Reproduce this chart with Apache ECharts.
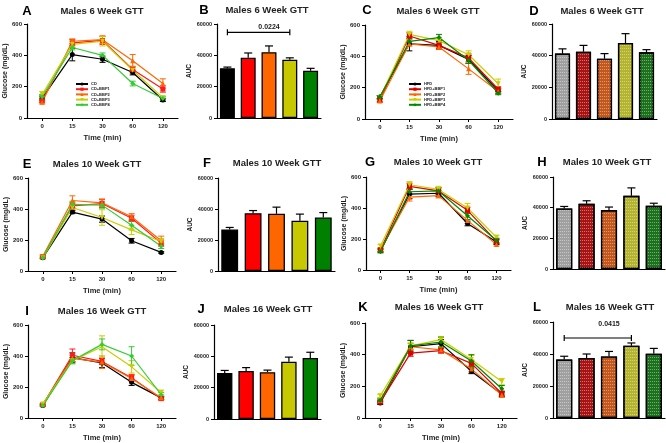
<!DOCTYPE html>
<html><head><meta charset="utf-8">
<script src="https://cdn.jsdelivr.net/npm/echarts@6/dist/echarts.min.js"></script>
<style>html,body{margin:0;padding:0;background:#fff}#c{width:666px;height:443px}</style>
</head><body><div id="c"></div>
<script>
// ---------- DATA ----------
const timePoints = ['0', '15', '30', '60', '120'];
const cdGroups = ['CD', 'CD+BBP1', 'CD+BBP2', 'CD+BBP3', 'CD+BBP4'];
const hfdGroups = ['HFD', 'HFD+BBP1', 'HFD+BBP2', 'HFD+BBP3', 'HFD+BBP4'];
const glucoseTicks = [0, 200, 400, 600];
const aucTicks = [0, 20000, 40000, 60000];

// GTT curves: one row per group, values at 0,15,30,60,120 min
const gttA_mean = [[125,405,375,290,115],[110,480,495,310,185],[100,490,500,365,220],[150,470,490,305,130],[135,450,400,220,125]];
const gttA_err  = [[15,40,20,15,10],[10,20,25,20,20],[10,15,25,40,30],[20,20,30,20,10],[15,15,15,15,10]];
const gttC_mean = [[140,480,470,380,180],[120,530,470,390,190],[115,480,460,320,175],[135,540,500,410,225],[140,495,520,375,165]];
const gttC_err  = [[10,45,25,25,15],[10,20,20,25,15],[10,15,15,35,15],[10,20,20,25,30],[10,20,20,20,10]];
const gttE_mean = [[85,380,335,195,120],[90,420,435,340,180],[95,455,440,350,195],[85,410,345,265,190],[85,430,425,295,160]];
const gttE_err  = [[5,10,20,15,5],[10,20,25,20,20],[10,30,25,20,30],[5,25,50,30,20],[5,20,20,30,15]];
const gttG_mean = [[125,490,495,300,180],[130,540,510,385,185],[130,470,480,320,165],[155,550,520,400,210],[120,505,510,350,190]];
const gttG_err  = [[10,30,20,15,15],[10,20,20,20,15],[10,25,15,20,10],[10,20,20,30,15],[10,20,20,25,15]];
const gttI_mean = [[80,390,355,230,130],[85,405,365,260,125],[90,385,360,255,130],[90,370,460,330,165],[80,370,475,400,150]];
const gttI_err  = [[5,30,30,20,10],[5,40,20,20,10],[5,20,40,20,10],[5,20,70,40,15],[5,20,35,60,15]];
const gttK_mean = [[95,450,470,295,150],[100,410,425,345,155],[110,450,430,310,145],[140,455,495,370,230],[110,455,480,360,185]];
const gttK_err  = [[10,40,25,15,15],[10,20,15,20,15],[10,20,15,20,15],[10,20,20,25,20],[10,35,30,40,20]];

// AUC bars: one value per group
const aucB_mean = [31800, 38500, 42000, 37200, 30200];
const aucB_err  = [700, 3000, 4000, 1200, 1500];
const aucD_mean = [41300, 42500, 38100, 48000, 42100];
const aucD_err  = [3000, 4000, 3200, 5900, 1700];
const aucF_mean = [26800, 37300, 36900, 32400, 34500];
const aucF_err  = [1300, 1700, 4300, 4300, 3200];
const aucH_mean = [39500, 42500, 38400, 47700, 41200];
const aucH_err  = [1300, 2000, 2000, 5200, 1700];
const aucJ_mean = [29300, 30700, 29900, 36500, 39000];
const aucJ_err  = [1700, 2100, 1300, 3000, 3600];
const aucL_mean = [36500, 37500, 38500, 45200, 40200];
const aucL_err  = [2100, 2500, 3100, 1700, 3300];

// significance brackets: [fromBar, toBar, lineValue, labelValue]
const sigB = [0, 3, 54700, 57900];
const sigB_text = '0.0224';
const sigL = [0, 3, 50000, 58700];
const sigL_text = '0.0415';

const panelTitles = ['Males 6 Week GTT', 'Males 10 Week GTT', 'Males 16 Week GTT'];

// ---------- STYLE / LAYOUT ----------
const cdColors  = ['#000000', '#ff1a1a', '#ff6600', '#cccc00', '#33cc33'];
const hfdColors = ['#000000', '#dd0000', '#ff6600', '#cccc00', '#008800'];
const barColors = ['#000000', '#ff0000', '#ff6600', '#c8c800', '#008000'];
const patColors = ['#a0a0a0', '#a81414', '#c4581c', '#b4b42e', '#1c721c'];
const symbols = ['circle', 'rect', 'triangle', 'triangle', 'diamond'];
const symRot = [0, 0, 0, 180, 0];
const FONT = 'Liberation Sans, Arial, sans-serif';

const grids = [], xAxes = [], yAxes = [], series = [], graphics = [];

function lineErrRender(params, api) {
  const x = api.value(0), lo = api.value(1), hi = api.value(2);
  const p1 = api.coord([x, lo]), p2 = api.coord([x, hi]);
  const c = api.visual('color'), w = 3;
  const st = { stroke: c, lineWidth: 1 };
  return { type: 'group', children: [
    { type: 'line', shape: { x1: p1[0], y1: p1[1], x2: p2[0], y2: p2[1] }, style: st },
    { type: 'line', shape: { x1: p1[0] - w, y1: p1[1], x2: p1[0] + w, y2: p1[1] }, style: st },
    { type: 'line', shape: { x1: p2[0] - w, y1: p2[1], x2: p2[0] + w, y2: p2[1] }, style: st }
  ]};
}
function barErrRender(params, api) {
  const x = api.value(0), lo = api.value(1), hi = api.value(2);
  const p1 = api.coord([x, lo]), p2 = api.coord([x, hi]);
  const w = 4;
  const st = { stroke: '#000', lineWidth: 1.2 };
  return { type: 'group', children: [
    { type: 'line', shape: { x1: p1[0], y1: p1[1], x2: p2[0], y2: p2[1] }, style: st },
    { type: 'line', shape: { x1: p2[0] - w, y1: p2[1], x2: p2[0] + w, y2: p2[1] }, style: st }
  ]};
}
function sigRender(params, api) {
  const a = api.coord([api.value(0), api.value(2)]);
  const b = api.coord([api.value(1), api.value(2)]);
  const t = api.coord([(api.value(0) + api.value(1)) / 2, api.value(3)]);
  const st = { stroke: '#000', lineWidth: 1.2 };
  return { type: 'group', children: [
    { type: 'line', shape: { x1: a[0], y1: a[1], x2: b[0], y2: b[1] }, style: st },
    { type: 'line', shape: { x1: a[0], y1: a[1] - 3, x2: a[0], y2: a[1] + 3 }, style: st },
    { type: 'line', shape: { x1: b[0], y1: b[1] - 3, x2: b[0], y2: b[1] + 3 }, style: st },
    { type: 'text', x: t[0], y: t[1], style: { text: params.seriesName, font: 'bold 7px ' + FONT, fill: '#222', align: 'center', verticalAlign: 'middle' } }
  ]};
}

function axisCommon() {
  return {
    axisLine: { show: true, lineStyle: { color: '#000', width: 1.2 } },
    axisTick: { show: true, length: 3, lineStyle: { color: '#000', width: 1 } },
    splitLine: { show: false },
  };
}

function addTitle(letter, lx, ly, title, tx, ty) {
  graphics.push({ type: 'text', x: lx, y: ly, style: { text: letter, font: 'bold 13px ' + FONT, fill: '#000', align: 'center', verticalAlign: 'middle' } });
  graphics.push({ type: 'text', x: tx, y: ty, style: { text: title, font: 'bold 9.5px ' + FONT, fill: '#222', align: 'center', verticalAlign: 'middle' } });
}

function addLinePanel(box, means, errs, names, colors) {
  const i = grids.length;
  grids.push(Object.assign({ containLabel: false }, box));
  xAxes.push(Object.assign(axisCommon(), {
    type: 'category', gridIndex: i, data: timePoints, boundaryGap: true,
    axisTick: { show: true, alignWithLabel: true, length: 3, lineStyle: { color: '#000' } },
    axisLabel: { fontSize: 6, fontWeight: 'bold', color: '#222', margin: 5, fontFamily: FONT },
    name: 'Time (min)', nameLocation: 'middle', nameGap: 16,
    nameTextStyle: { fontSize: 7.5, fontWeight: 'bold', color: '#222', fontFamily: FONT }
  }));
  yAxes.push(Object.assign(axisCommon(), {
    type: 'value', gridIndex: i, min: glucoseTicks[0], max: glucoseTicks[glucoseTicks.length - 1],
    interval: glucoseTicks[1] - glucoseTicks[0],
    axisLabel: { fontSize: 6, fontWeight: 'bold', color: '#222', margin: 5, fontFamily: FONT },
    name: 'Glucose (mg/dL)', nameLocation: 'middle', nameGap: 14,
    nameTextStyle: { fontSize: 7, fontWeight: 'bold', color: '#222', fontFamily: FONT }
  }));
  means.forEach((m, s) => {
    series.push({
      type: 'custom', xAxisIndex: i, yAxisIndex: i, renderItem: lineErrRender,
      itemStyle: { color: colors[s] }, silent: true, z: 2,
      data: m.map((v, k) => [k, v - errs[s][k], v + errs[s][k]])
    });
  });
  means.forEach((m, s) => {
    series.push({
      type: 'line', name: names[s], xAxisIndex: i, yAxisIndex: i, data: m,
      symbol: symbols[s], symbolRotate: symRot[s], symbolSize: 5,
      lineStyle: { width: 1.2, color: colors[s] }, itemStyle: { color: colors[s] },
      animation: false, z: 3
    });
  });
}

function addBarPanel(box, means, errs, names, colors, patterned, sig, sigText) {
  const i = grids.length;
  grids.push(Object.assign({ containLabel: false }, box));
  xAxes.push(Object.assign(axisCommon(), {
    type: 'category', gridIndex: i, data: names, boundaryGap: true,
    axisTick: { show: false }, axisLabel: { show: false }
  }));
  yAxes.push(Object.assign(axisCommon(), {
    type: 'value', gridIndex: i, min: aucTicks[0], max: aucTicks[aucTicks.length - 1],
    interval: aucTicks[1] - aucTicks[0],
    axisLabel: { fontSize: 5.5, fontWeight: 'bold', color: '#222', margin: 5, fontFamily: FONT,
      formatter: v => String(v) },
    name: 'AUC', nameLocation: 'middle', nameGap: 20,
    nameTextStyle: { fontSize: 6.5, fontWeight: 'bold', color: '#222', fontFamily: FONT }
  }));
  series.push({
    type: 'bar', xAxisIndex: i, yAxisIndex: i, barWidth: '72%', animation: false,
    data: means.map((v, k) => ({
      value: v,
      itemStyle: Object.assign({ color: colors[k], borderColor: '#000', borderWidth: 1.3 },
        patterned ? { decal: { symbol: 'rect', symbolSize: 1, color: 'rgba(255,255,255,0.4)', dashArrayX: [1, 1], dashArrayY: [1, 2] } } : {})
    }))
  });
  series.push({
    type: 'custom', xAxisIndex: i, yAxisIndex: i, renderItem: barErrRender, silent: true, z: 1,
    data: means.map((v, k) => [k, v, v + errs[k]])
  });
  if (sig) {
    series.push({
      type: 'custom', name: sigText, xAxisIndex: i, yAxisIndex: i, renderItem: sigRender, silent: true,
      data: [sig]
    });
  }
}

// Row 1
addLinePanel({ left: 27, top: 24, width: 151, height: 94 }, gttA_mean, gttA_err, cdGroups, cdColors);
addTitle('A', 27, 11, panelTitles[0], 102, 11);
addBarPanel({ left: 217, top: 24, width: 104, height: 94 }, aucB_mean, aucB_err, cdGroups, barColors, false, sigB, sigB_text);
addTitle('B', 204, 10, panelTitles[0], 267, 10);
addLinePanel({ left: 365, top: 25, width: 148, height: 94 }, gttC_mean, gttC_err, hfdGroups, hfdColors);
addTitle('C', 367, 10, panelTitles[0], 438, 11);
addBarPanel({ left: 552, top: 24, width: 105, height: 95 }, aucD_mean, aucD_err, hfdGroups, patColors, true);
addTitle('D', 534, 11, panelTitles[0], 602, 11);
// Row 2
addLinePanel({ left: 28, top: 178, width: 148, height: 93 }, gttE_mean, gttE_err, cdGroups, cdColors);
addTitle('E', 27, 164, panelTitles[1], 97, 164);
addBarPanel({ left: 218, top: 178, width: 117, height: 93 }, aucF_mean, aucF_err, cdGroups, barColors, false);
addTitle('F', 207, 163, panelTitles[1], 277, 163);
addLinePanel({ left: 366, top: 177, width: 145, height: 93 }, gttG_mean, gttG_err, hfdGroups, hfdColors);
addTitle('G', 370, 162, panelTitles[1], 438, 162);
addBarPanel({ left: 553, top: 177, width: 112, height: 92 }, aucH_mean, aucH_err, hfdGroups, patColors, true);
addTitle('H', 542, 162, panelTitles[1], 607, 162);
// Row 3
addLinePanel({ left: 28, top: 325, width: 148, height: 94 }, gttI_mean, gttI_err, cdGroups, cdColors);
addTitle('I', 27, 311, panelTitles[2], 102, 311);
addBarPanel({ left: 214, top: 325, width: 107, height: 94 }, aucJ_mean, aucJ_err, cdGroups, barColors, false);
addTitle('J', 201, 309, panelTitles[2], 268, 309);
addLinePanel({ left: 365, top: 323, width: 152, height: 95 }, gttK_mean, gttK_err, hfdGroups, hfdColors);
addTitle('K', 363, 307, panelTitles[2], 439, 307);
addBarPanel({ left: 553, top: 322, width: 112, height: 96 }, aucL_mean, aucL_err, hfdGroups, patColors, true, sigL, sigL_text);
addTitle('L', 537, 307, panelTitles[2], 610, 307);

const legendCommon = {
  orient: 'vertical', itemWidth: 12, itemHeight: 4, itemGap: 1.2, padding: 0,
  textStyle: { fontSize: 4, fontWeight: 'bold', color: '#222', fontFamily: FONT, padding: [0, 0, 0, -2] },
  selectedMode: false
};

const chart = echarts.init(document.getElementById('c'), null, { renderer: 'canvas' });
chart.setOption({
  backgroundColor: '#fff',
  animation: false,
  textStyle: { fontFamily: FONT },
  grid: grids, xAxis: xAxes, yAxis: yAxes, series: series,
  legend: [
    Object.assign({ left: 75, top: 82, data: cdGroups }, legendCommon),
    Object.assign({ left: 408, top: 82, data: hfdGroups }, legendCommon)
  ],
  graphic: graphics
});
</script></body></html>
